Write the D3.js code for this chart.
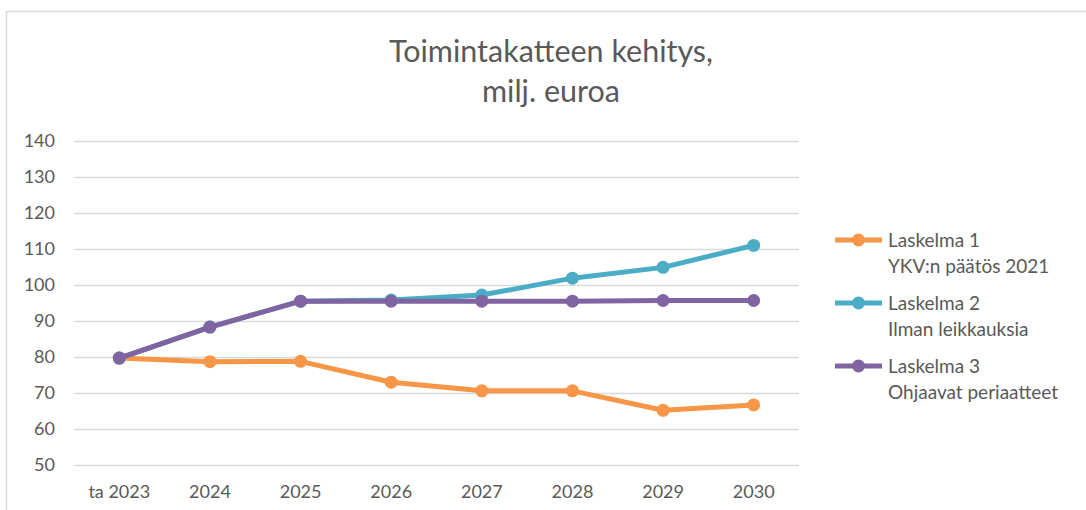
<!DOCTYPE html>
<html>
<head>
<meta charset="utf-8">
<script src="https://cdn.jsdelivr.net/npm/d3@7"></script>
<style>
  body { margin: 0; background: #fff; }
  text { font-family: Lato, "Open Sans", sans-serif; fill: #595959; }
</style>
</head>
<body>
<div id="my_dataviz"></div>
<script>
// chart data
const categories = ["ta 2023", "2024", "2025", "2026", "2027", "2028", "2029", "2030"];
const laskelma1 = [79.7, 78.7, 78.8, 73.0, 70.6, 70.6, 65.2, 66.7];
const laskelma2 = [79.7, 88.3, 95.5, 95.8, 97.2, 101.9, 104.9, 111.0];
const laskelma3 = [79.7, 88.3, 95.5, 95.5, 95.5, 95.5, 95.7, 95.7];
const yTicks = [50, 60, 70, 80, 90, 100, 110, 120, 130, 140];
const seriesNames = [
  ["Laskelma 1", "YKV:n päätös 2021"],
  ["Laskelma 2", "Ilman leikkauksia"],
  ["Laskelma 3", "Ohjaavat periaatteet"]
];
const titleLines = ["Toimintakatteen kehitys,", "milj. euroa"];

const series = [
  { name: seriesNames[0], values: laskelma1, color: "#F79646" },
  { name: seriesNames[1], values: laskelma2, color: "#4BACC6" },
  { name: seriesNames[2], values: laskelma3, color: "#8064A2" }
];

const W = 1086, H = 510;
const margin = { top: 141, right: 287, bottom: 45, left: 74 },
  width = W - margin.left - margin.right,
  height = H - margin.top - margin.bottom;

const root = d3.select("#my_dataviz")
  .append("svg")
  .attr("width", W)
  .attr("height", H);

// chart frame
root.append("rect")
  .attr("x", 6.5).attr("y", 11.5)
  .attr("width", W + 10).attr("height", H + 10)
  .attr("fill", "none")
  .attr("stroke", "#d9d9d9")
  .attr("stroke-width", 1.5);

// title
root.append("text")
  .attr("text-anchor", "middle")
  .style("font-size", "30.5px")
  .selectAll("tspan")
  .data(titleLines)
  .join("tspan")
  .attr("x", 551)
  .attr("y", (d, i) => 62 + i * 40)
  .text(d => d);

const svg = root.append("g")
  .attr("transform", `translate(${margin.left},${margin.top})`);

// x scale
const x = d3.scaleBand()
  .domain(categories)
  .range([0, width]);

// y scale
const y = d3.scaleLinear()
  .domain([50, 140])
  .range([324, 0]);

// gridlines
svg.append("g")
  .call(d3.axisLeft(y).tickValues(yTicks).tickSize(-width).tickFormat(""))
  .call(g => g.select(".domain").remove())
  .call(g => g.selectAll("line").attr("stroke", "#d9d9d9").attr("stroke-width", 1.3));

// y labels
svg.append("g")
  .call(d3.axisLeft(y).tickValues(yTicks).tickSize(0).tickPadding(19))
  .call(g => g.select(".domain").remove())
  .call(g => g.selectAll("text").style("font-size", "18px").style("fill", "#595959"))
  .attr("font-family", null);

// x labels
svg.append("g")
  .attr("transform", "translate(0, 324)")
  .call(d3.axisBottom(x).tickSize(0).tickPadding(20))
  .call(g => g.select(".domain").remove())
  .call(g => g.selectAll("text").style("font-size", "18px").style("fill", "#595959"))
  .attr("font-family", null);

const line = d3.line()
  .x((d, i) => x(categories[i]) + x.bandwidth() / 2)
  .y(d => y(d));

// lines & markers, draw orange, teal, purple in order
series.forEach(s => {
  svg.append("path")
    .datum(s.values)
    .attr("fill", "none")
    .attr("stroke", s.color)
    .attr("stroke-width", 5)
    .attr("stroke-linejoin", "round")
    .attr("d", line);
  svg.selectAll(null)
    .data(s.values)
    .join("circle")
    .attr("cx", (d, i) => x(categories[i]) + x.bandwidth() / 2)
    .attr("cy", d => y(d))
    .attr("r", 6.5)
    .attr("fill", s.color);
});

// legend
const legend = root.append("g")
  .attr("transform", "translate(835, 240)");
series.forEach((s, i) => {
  const g = legend.append("g").attr("transform", `translate(0, ${i * 63})`);
  g.append("line")
    .attr("x1", 0).attr("x2", 47)
    .attr("stroke", s.color).attr("stroke-width", 5);
  g.append("circle").attr("cx", 23.5).attr("r", 6.5).attr("fill", s.color);
  g.append("text")
    .style("font-size", "19px")
    .selectAll("tspan")
    .data(s.name)
    .join("tspan")
    .attr("x", 53)
    .attr("y", (d, j) => 7 + j * 26)
    .text(d => d);
});
</script>
</body>
</html>
